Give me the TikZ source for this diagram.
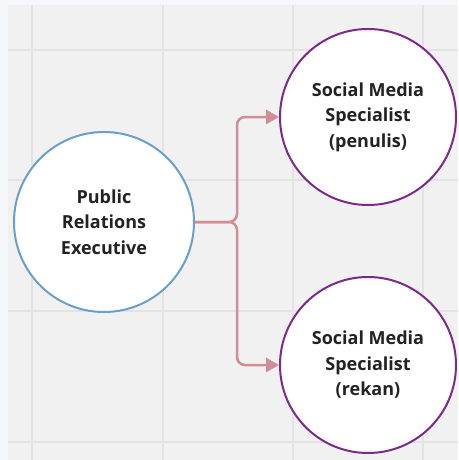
\documentclass[tikz,border=0pt]{standalone}
\usepackage{fontspec}
\setmainfont{Open Sans}
\usetikzlibrary{arrows.meta}
\definecolor{bgcol}{HTML}{F1F1F1}
\definecolor{gridcol}{HTML}{E3E3E3}
\definecolor{edgecol}{HTML}{F6F7FA}
\definecolor{bluecol}{HTML}{6A9FC8}
\definecolor{purplecol}{HTML}{7B2A8C}
\definecolor{linkcol}{HTML}{CF8E96}
\definecolor{textcol}{HTML}{222222}
\begin{document}
\begin{tikzpicture}[x=1pt,y=-1pt,
  role/.style={circle,draw,line width=2pt,fill=white,minimum size=176pt,inner sep=0pt,
    align=center,text=textcol,font=\fontsize{18}{25.5}\selectfont\bfseries},
  link/.style={draw=linkcol,line width=2.5pt,rounded corners=8pt,-{Triangle[length=13pt,width=14pt]}}]
\useasboundingbox (0,0) rectangle (458,460);
\fill [bgcol] (0,0) rectangle (458,460);
\fill [edgecol] (0,0) rectangle (8,460);
\fill [edgecol] (0,0) rectangle (458,5);
\foreach \x in {32,163,293,423}{
  \draw [gridcol,line width=2pt] (\x,5) -- (\x,460);
}
\foreach \y in {50,180,311,442}{
  \draw [gridcol,line width=2pt] (8,\y) -- (458,\y);
}
\node [role,draw=bluecol,minimum size=180pt] (pre) at (104,222) {Public\\Relations\\Executive};
\node [role,draw=purplecol] (penulis) at (368,117) {Social Media\\Specialist\\(penulis)};
\node [role,draw=purplecol] (rekan) at (368,365) {Social Media\\Specialist\\(rekan)};
\coordinate (fork) at (237,222);
\draw [link] (pre.east) -- (fork) |- (penulis.west);
\draw [link] (pre.east) -- (fork) |- (rekan.west);
\end{tikzpicture}
\end{document}
